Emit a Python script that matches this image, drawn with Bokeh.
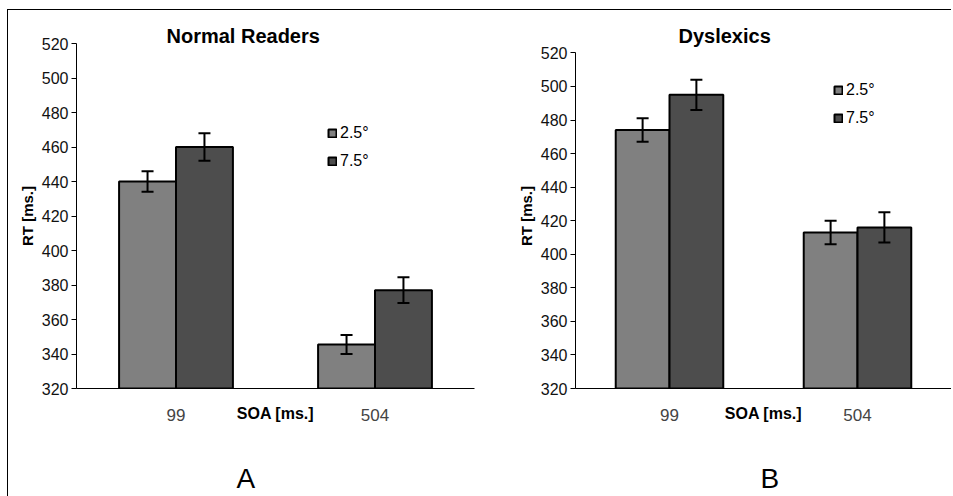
from bokeh.plotting import figure
from bokeh.layouts import row
from bokeh.models import (ColumnDataSource, Range1d, FixedTicker, Whisker, TeeHead,
                          Legend, LegendItem, Title)
from bokeh.transform import dodge
from bokeh.embed import file_html
from bokeh.resources import INLINE

# ---- data ----
soa_labels = ["99", "504"]
soa_pos = [0, 1]
series = ["2.5°", "7.5°"]
normal_25 = [440, 345.5]
normal_75 = [460, 377]
normal_25_err = [6, 5.5]
normal_75_err = [8, 7.5]
dys_25 = [474, 413]
dys_75 = [495, 416]
dys_25_err = [7, 7]
dys_75_err = [9, 9]
y_ticks = [320, 340, 360, 380, 400, 420, 440, 460, 480, 500, 520]

LIGHT = "#808080"
DARK = "#4d4d4d"
FONT = "Liberation Sans"
BW = 0.286


def panel(title, letter, v25, v75, e25, e75, width, mb_left, mb_right, y_top,
          title_off, letter_off, legend_loc):
    p = figure(width=width, height=486, output_backend="svg", toolbar_location=None,
               x_range=Range1d(-0.5, 1.5), y_range=Range1d(320, y_top),
               min_border_left=mb_left, min_border_right=mb_right,
               min_border_top=33, min_border_bottom=108,
               outline_line_color=None, background_fill_color="white",
               border_fill_color="white")
    p.title = None
    p.add_layout(Title(text=title, align="left", offset=title_off, standoff=-6,
                       text_font=FONT, text_font_size="20px", text_font_style="bold",
                       text_color="black"), "above")
    # padding is (left, right, top, bottom)
    p.add_layout(Title(text=letter, align="left", offset=letter_off, standoff=0,
                       padding=(0, 0, 36, 0),
                       text_font=FONT, text_font_size="28px", text_font_style="normal",
                       text_color="black"), "below")
    p.xgrid.visible = False
    p.ygrid.visible = False

    src = ColumnDataSource(dict(x=soa_pos, v25=v25, v75=v75,
                                lo25=[a - b for a, b in zip(v25, e25)],
                                hi25=[a + b for a, b in zip(v25, e25)],
                                lo75=[a - b for a, b in zip(v75, e75)],
                                hi75=[a + b for a, b in zip(v75, e75)]))
    r1 = p.vbar(x=dodge("x", -BW / 2, range=p.x_range), top="v25", bottom=320, width=BW,
                source=src, fill_color=LIGHT, line_color="black", line_width=2)
    r2 = p.vbar(x=dodge("x", BW / 2, range=p.x_range), top="v75", bottom=320, width=BW,
                source=src, fill_color=DARK, line_color="black", line_width=2)
    for base, lo, hi in ((-BW / 2, "lo25", "hi25"), (BW / 2, "lo75", "hi75")):
        w = Whisker(base=dodge("x", base, range=p.x_range), lower=lo, upper=hi, source=src,
                    line_color="black", line_width=2, level="overlay",
                    upper_head=TeeHead(size=12, line_width=2, line_color="black"),
                    lower_head=TeeHead(size=12, line_width=2, line_color="black"))
        p.add_layout(w)

    # y axis
    ya = p.yaxis[0]
    ya.ticker = FixedTicker(ticks=y_ticks)
    ya.bounds = (320, 520)
    ya.axis_label = "RT [ms.]"
    ya.axis_label_text_font = FONT
    ya.axis_label_text_font_size = "15px"
    ya.axis_label_text_font_style = "bold"
    ya.axis_label_text_color = "black"
    ya.axis_label_standoff = 3
    ya.major_label_text_font = FONT
    ya.major_label_text_font_size = "16px"
    ya.major_label_text_color = "#111111"
    ya.major_label_standoff = 3
    ya.major_tick_out = 5
    ya.major_tick_in = 0
    ya.minor_tick_out = 0
    ya.minor_tick_in = 0
    ya.axis_line_color = "black"
    ya.major_tick_line_color = "black"

    # x axis
    xa = p.xaxis[0]
    xa.ticker = FixedTicker(ticks=soa_pos)
    xa.major_label_overrides = {pos: lab for pos, lab in zip(soa_pos, soa_labels)}
    xa.major_label_text_font = FONT
    xa.major_label_text_font_size = "17px"
    xa.major_label_text_color = "#444444"
    xa.major_label_standoff = 20
    xa.major_tick_out = 0
    xa.major_tick_in = 0
    xa.minor_tick_out = 0
    xa.minor_tick_in = 0
    xa.axis_label = "SOA [ms.]"
    xa.axis_label_text_font = FONT
    xa.axis_label_text_font_size = "16px"
    xa.axis_label_text_font_style = "bold"
    xa.axis_label_text_color = "black"
    xa.axis_label_standoff = -19
    xa.axis_line_color = "black"

    leg = Legend(items=[LegendItem(label=series[0], renderers=[r1]),
                        LegendItem(label=series[1], renderers=[r2])],
                 location=legend_loc, glyph_width=10, glyph_height=10,
                 label_height=10, label_standoff=3, spacing=10, padding=0, margin=0,
                 border_line_color=None, background_fill_alpha=0,
                 label_text_font=FONT, label_text_font_size="16px",
                 label_text_color="black")
    p.add_layout(leg)
    return p


pa = panel("Normal Readers", "A", normal_25, normal_75, normal_25_err, normal_75_err,
           width=468, mb_left=68, mb_right=2, y_top=520,
           title_off=90, letter_off=160, legend_loc=(251, 218))
pb = panel("Dyslexics", "B", dys_25, dys_75, dys_25_err, dys_75_err,
           width=475, mb_left=99, mb_right=0, y_top=525.6,
           title_off=103, letter_off=185, legend_loc=(258, 261))

layout = row(pa, pb, styles={"border-top": "1px solid black",
                             "border-left": "1px solid black",
                             "margin-top": "9px", "margin-left": "7px"})

open("out.html", "w").write(file_html(layout, INLINE))
